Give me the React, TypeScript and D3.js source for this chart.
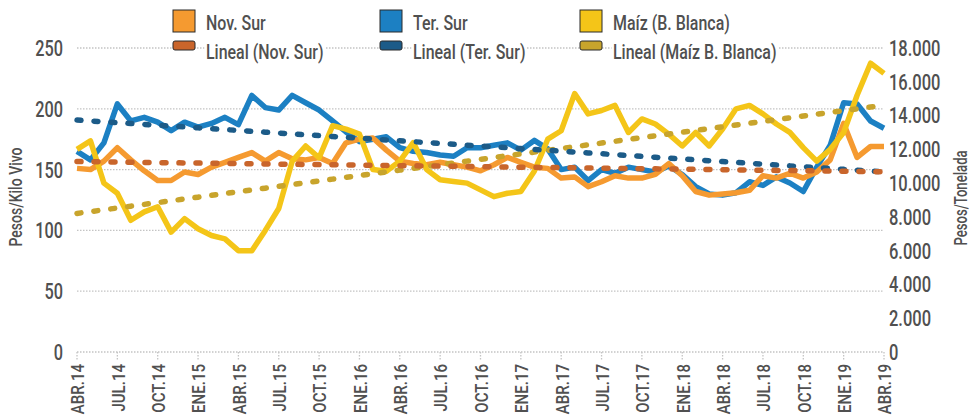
import { useEffect, useRef } from 'react';
import * as d3 from 'd3';

const months = [
  'ABR.14', 'MAY.14', 'JUN.14', 'JUL.14', 'AGO.14', 'SEP.14', 'OCT.14', 'NOV.14', 'DIC.14',
  'ENE.15', 'FEB.15', 'MAR.15', 'ABR.15', 'MAY.15', 'JUN.15', 'JUL.15', 'AGO.15', 'SEP.15', 'OCT.15', 'NOV.15', 'DIC.15',
  'ENE.16', 'FEB.16', 'MAR.16', 'ABR.16', 'MAY.16', 'JUN.16', 'JUL.16', 'AGO.16', 'SEP.16', 'OCT.16', 'NOV.16', 'DIC.16',
  'ENE.17', 'FEB.17', 'MAR.17', 'ABR.17', 'MAY.17', 'JUN.17', 'JUL.17', 'AGO.17', 'SEP.17', 'OCT.17', 'NOV.17', 'DIC.17',
  'ENE.18', 'FEB.18', 'MAR.18', 'ABR.18', 'MAY.18', 'JUN.18', 'JUL.18', 'AGO.18', 'SEP.18', 'OCT.18', 'NOV.18', 'DIC.18',
  'ENE.19', 'FEB.19', 'MAR.19', 'ABR.19'
];

const tickLabels = [
  'ABR.14', 'JUL.14', 'OCT.14', 'ENE.15', 'ABR.15', 'JUL.15', 'OCT.15', 'ENE.16', 'ABR.16', 'JUL.16', 'OCT.16',
  'ENE.17', 'ABR.17', 'JUL.17', 'OCT.17', 'ENE.18', 'ABR.18', 'JUL.18', 'OCT.18', 'ENE.19', 'ABR.19'
];

// Pesos / kilo vivo
const novSur = [
  151, 150, 157, 168, 158, 149, 141, 141, 148, 146, 152, 156, 160, 164, 157, 164, 159, 158, 160, 155, 172,
  175, 176, 166, 157, 155, 154, 156, 154, 152, 149, 154, 160, 156, 152, 151, 143, 144, 136, 140, 145,
  143, 143, 146, 155, 145, 132, 129, 130, 131, 133, 145, 143, 147, 143, 148, 158, 188, 160, 169, 169
];

const terSur = [
  165, 158, 172, 204, 190, 193, 189, 182, 189, 185, 188, 193, 187, 211, 201, 199, 211, 205, 199, 190, 181,
  173, 175, 177, 168, 165, 164, 162, 161, 168, 168, 170, 172, 166, 174, 167, 150, 152, 141, 150, 147,
  152, 150, 148, 153, 146, 136, 130, 129, 131, 140, 137, 144, 139, 132, 152, 170, 205, 204, 190, 184
];

// Pesos / tonelada
const maiz = [
  12000, 12500, 10000, 9400, 7800, 8300, 8600, 7100, 7900, 7300, 6900, 6700, 6000, 6000, 7200, 8500,
  11300, 12200, 11500, 13400, 13200, 12900, 10800, 10700, 11300, 12400, 10800, 10200, 10100, 10000,
  9600, 9200, 9400, 9500, 10700, 12600, 13100, 15300, 14100, 14300, 14600, 13000, 13800, 13500, 12900,
  12200, 13000, 12200, 13200, 14400, 14600, 14100, 13500, 13000, 12100, 11300, 12000, 13000, 15200, 17100, 16500
];

const leftTicks = [0, 50, 100, 150, 200, 250];
const rightTicks = [0, 2000, 4000, 6000, 8000, 10000, 12000, 14000, 16000, 18000];

const FONT = "Roboto, 'Liberation Sans', sans-serif";
const TEXT = '#505050';

const C_NOV = '#f59a30';
const C_TER = '#1c80c3';
const C_MAIZ = '#f4c518';
const C_NOV_T = '#c9652b';
const C_TER_T = '#1c5b88';
const C_MAIZ_T = '#c8a42c';

// least squares fit, like Excel's "Lineal" trendline
function linearFit(vals: number[]) {
  const n = vals.length;
  const mx = (n - 1) / 2;
  const my = d3.mean(vals) as number;
  let num = 0;
  let den = 0;
  vals.forEach((v, i) => {
    num += (i - mx) * (v - my);
    den += (i - mx) * (i - mx);
  });
  const b = num / den;
  return vals.map((_, i) => my + b * (i - mx));
}

// condensed text: no narrow font installed, so squeeze along the text direction
function ctext(
  parent: d3.Selection<any, unknown, null, undefined>,
  x: number, y: number, rot: number, sx: number,
  label: string, size: number, anchor: string
) {
  const g = parent.append('g')
    .attr('transform', `translate(${x},${y}) rotate(${rot}) scale(${sx},1)`);
  const t = g.append('text')
    .attr('dy', '0.36em')
    .attr('text-anchor', anchor)
    .attr('font-family', FONT)
    .attr('font-weight', 500)
    .attr('font-size', `${size}px`)
    .attr('fill', TEXT)
    .text(label);
  return { g, t };
}

export default function App() {
  const svgRef = useRef<SVGSVGElement>(null);

  useEffect(() => {
    if (!svgRef.current) return;
    const svg = d3.select(svgRef.current);
    svg.selectAll('*').remove();

    const width = 972;
    const height = 416;
    svg.attr('width', width).attr('height', height);

    const x = d3.scalePoint<string>().domain(months).range([77, 884]);
    const yL = d3.scaleLinear().domain([0, 250]).range([352, 48]);
    const yR = d3.scaleLinear().domain([0, 18000]).range([352, 48]);

    svg.append('rect').attr('width', width).attr('height', height).attr('fill', '#ffffff');

    // Grid lines
    svg.append('g')
      .selectAll('line')
      .data(leftTicks)
      .enter()
      .append('line')
      .attr('x1', 77)
      .attr('x2', 884)
      .attr('y1', d => yL(d))
      .attr('y2', d => yL(d))
      .attr('stroke', '#c4c4c4')
      .attr('stroke-width', 1.3)
      .attr('stroke-dasharray', '1.5,1.5');

    // x ticks
    svg.append('g')
      .selectAll('line')
      .data(tickLabels)
      .enter()
      .append('line')
      .attr('x1', d => x(d) as number)
      .attr('x2', d => x(d) as number)
      .attr('y1', yL(0))
      .attr('y2', yL(0) + 9)
      .attr('stroke', '#c4c4c4')
      .attr('stroke-width', 1.3)
      .attr('stroke-dasharray', '1.5,1.5');

    const axisG = svg.append('g');

    // Left axis labels
    leftTicks.forEach(d => ctext(axisG, 63, yL(d), 0, 0.74, String(d), 22, 'end'));

    // Right axis labels
    rightTicks.forEach(d =>
      ctext(axisG, 889, yR(d), 0, 0.75, d3.format(',')(d).replace(/,/g, '.'), 22, 'start'));

    // x labels
    tickLabels.forEach(d => ctext(axisG, (x(d) as number) + 1, yL(0) + 12, -90, 0.86, d, 17.5, 'end'));

    // Axis titles
    ctext(axisG, 16, 197, -90, 0.78, 'Pesos/Kilo Vivo', 18, 'middle');
    ctext(axisG, 961, 198, -90, 0.73, 'Pesos/Tonelada', 18, 'middle');

    const lineL = d3.line<number>()
      .x((_, i) => x(months[i]) as number)
      .y(d => yL(d));
    const lineR = d3.line<number>()
      .x((_, i) => x(months[i]) as number)
      .y(d => yR(d));

    const series = [
      { data: terSur, line: lineL, color: C_TER },
      { data: novSur, line: lineL, color: C_NOV },
      { data: maiz, line: lineR, color: C_MAIZ }
    ];

    series.forEach(s => {
      svg.append('path')
        .datum(s.data)
        .attr('fill', 'none')
        .attr('stroke', s.color)
        .attr('stroke-width', 5.5)
        .attr('stroke-linejoin', 'round')
        .attr('d', s.line);
    });

    const trends = [
      { data: linearFit(maiz), line: lineR, color: C_MAIZ_T },
      { data: linearFit(terSur), line: lineL, color: C_TER_T },
      { data: linearFit(novSur), line: lineL, color: C_NOV_T }
    ];

    trends.forEach(t => {
      svg.append('path')
        .datum(t.data)
        .attr('fill', 'none')
        .attr('stroke', t.color)
        .attr('stroke-width', 5.5)
        .attr('stroke-linecap', 'round')
        .attr('stroke-dasharray', '4,13')
        .attr('d', t.line);
    });

    // Legend
    const legendItems = [
      { label: 'Nov. Sur', color: C_NOV, x: 173, row: 0 },
      { label: 'Ter. Sur', color: C_TER, x: 380, row: 0 },
      { label: 'Maíz (B. Blanca)', color: C_MAIZ, x: 580, row: 0 },
      { label: 'Lineal (Nov. Sur)', color: C_NOV_T, x: 173, row: 1 },
      { label: 'Lineal (Ter. Sur)', color: C_TER_T, x: 380, row: 1 },
      { label: 'Lineal (Maíz B. Blanca)', color: C_MAIZ_T, x: 580, row: 1 }
    ];

    const legend = svg.append('g');
    legendItems.forEach(item => {
      const { g, t } = ctext(legend, item.x + 33, item.row === 0 ? 22 : 51, 0, 0.76, item.label, 21, 'start');
      if (item.row === 1) {
        const bb = (t.node() as SVGTextElement).getBBox();
        g.insert('rect', 'text')
          .attr('x', bb.x - 2)
          .attr('y', bb.y + 3)
          .attr('width', bb.width + 4)
          .attr('height', bb.height - 6)
          .attr('fill', '#ffffff');
      }
      if (item.row === 0) {
        legend.append('rect')
          .attr('x', item.x)
          .attr('y', 10)
          .attr('width', 22)
          .attr('height', 22)
          .attr('fill', item.color)
          .attr('stroke', '#2a2a2a')
          .attr('stroke-width', 1);
      } else {
        legend.append('rect')
          .attr('x', item.x)
          .attr('y', 41)
          .attr('width', 22)
          .attr('height', 9)
          .attr('rx', 2)
          .attr('fill', item.color)
          .attr('stroke', '#2a2a2a')
          .attr('stroke-width', 1);
      }
    });
  }, []);

  return (
    <div style={{ position: 'absolute', left: 0, top: 0 }}>
      <svg ref={svgRef} style={{ display: 'block' }} />
    </div>
  );
}
